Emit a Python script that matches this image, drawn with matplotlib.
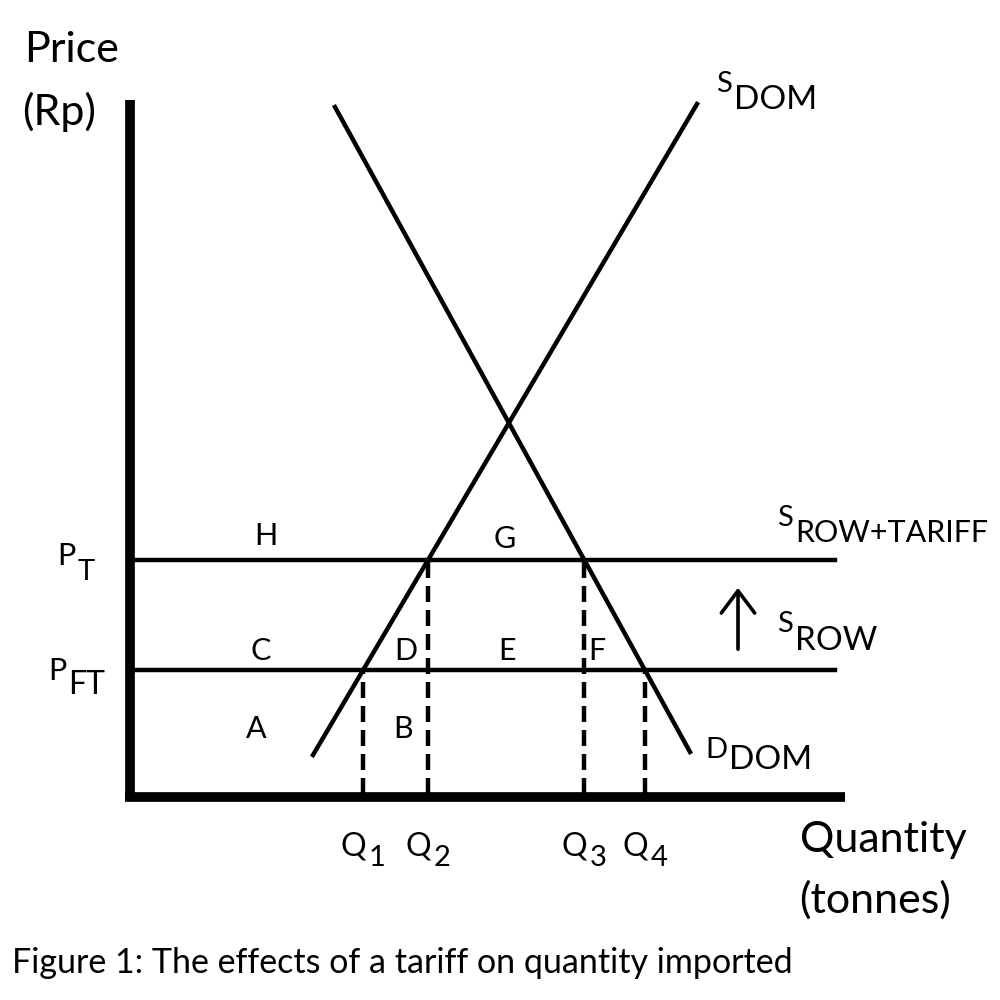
import numpy as np
import matplotlib
matplotlib.use("Agg")
import matplotlib.pyplot as plt
from matplotlib.transforms import offset_copy

plt.rcParams['font.family'] = ['Lato', 'DejaVu Sans']

# curves (quantity, price) end points
s_dom_q = [183, 567]
s_dom_p = [42, 693]
d_dom_q = [205, 560]
d_dom_p = [690, 45]
p_t = 237      # price with tariff
p_ft = 127     # free trade price
q_max = 705

area_labels = ['H', 'G', 'C', 'D', 'E', 'F', 'A', 'B']
area_q = [136, 375, 131, 276, 377, 467, 126, 273]
area_p = [261, 258, 146, 146, 146, 146, 68, 68]


def q_at(qs, ps, p):
    # quantity on a straight line at given price
    return qs[0] + (p - ps[0]) * (qs[1] - qs[0]) / (ps[1] - ps[0])


q1 = q_at(s_dom_q, s_dom_p, p_ft)
q2 = q_at(s_dom_q, s_dom_p, p_t)
q3 = q_at(d_dom_q, d_dom_p, p_t)
q4 = q_at(d_dom_q, d_dom_p, p_ft)
q_vals = [q1, q2, q3, q4]
q_prices = [p_ft, p_t, p_t, p_ft]

fig = plt.figure(figsize=(10, 10), dpi=100)
ax = fig.add_axes([0, 0, 1, 1])
ax.set_xlim(-130, 870)
ax.set_ylim(-203, 797)
ax.axis('off')
rend = fig.canvas.get_renderer()


def sub_label(x, y, main, sub, dy, fs_main=22, fs_sub=22, gap=2, center=False):
    # main letter with a subscript placed to its right, dy in pixels (down)
    t = ax.text(x, y, main, fontsize=fs_main, ha='left', va='center')
    w1 = t.get_window_extent(rend).width
    tr = offset_copy(ax.transData, fig=fig, x=(w1 + gap) * 72 / 100.0,
                     y=-dy * 72 / 100.0, units='points')
    s = ax.text(x, y, sub, fontsize=fs_sub, ha='left', va='center', transform=tr)
    if center:
        w2 = s.get_window_extent(rend).width
        shift = -(w1 + gap + w2) / 2.0 * 72 / 100.0
        t.set_transform(offset_copy(ax.transData, fig=fig, x=shift, y=0, units='points'))
        s.set_transform(offset_copy(ax.transData, fig=fig, x=(w1 + gap) * 72 / 100.0 + shift,
                                    y=-dy * 72 / 100.0, units='points'))


# axes
ax.plot([0, 0], [-3, 697], color='black', lw=7, solid_capstyle='butt')
ax.plot([-5, 715], [0, 0], color='black', lw=7, solid_capstyle='butt')

# curves
ax.plot(s_dom_q, s_dom_p, color='black', lw=3.2)
ax.plot(d_dom_q, d_dom_p, color='black', lw=3.2)
ax.plot([0, q_max], [p_t, p_t], color='black', lw=3.2)
ax.plot([0, q_max], [p_ft, p_ft], color='black', lw=3.2)

for q, p in zip(q_vals, q_prices):
    ax.plot([q, q], [3, p], color='black', lw=3.2, ls=(0, (3.6, 1.8)))

# arrow
ax.annotate('', xy=(608, 212), xytext=(608, 145),
            arrowprops=dict(arrowstyle='->,head_width=1.2,head_length=1.6',
                            color='black', lw=2.6))

for lab, q, p in zip(area_labels, area_q, area_p):
    ax.text(q, p, lab, fontsize=22, ha='center', va='center')

ax.text(-106, 747, 'Price', fontsize=31, ha='left', va='center')
ax.text(-108, 685, '(Rp)', fontsize=31, ha='left', va='center')

sub_label(-73, 241, 'P', 'T', 16, fs_sub=21)
sub_label(-82, 126, 'P', 'FT', 14, fs_sub=23)
sub_label(586, 713, 'S', 'DOM', 16, fs_main=21, fs_sub=24)
sub_label(647, 279, 'S', 'ROW+TARIFF', 15, fs_main=21, fs_sub=22)
sub_label(647, 173, 'S', 'ROW', 17, fs_main=21, fs_sub=24)
sub_label(575, 47, 'D', 'DOM', 10, fs_main=21, fs_sub=24)

for i, q in enumerate(q_vals):
    sub_label(q, -50, 'Q', str(i + 1), 11, fs_main=23, fs_sub=21, gap=3, center=True)

ax.text(670, -43, 'Quantity', fontsize=31, ha='left', va='center')
ax.text(669, -103, '(tonnes)', fontsize=31, ha='left', va='center')

fig.text(0.012, 0.037, 'Figure 1: The effects of a tariff on quantity imported',
         fontsize=24.5, ha='left', va='center')

fig.savefig('out.png', dpi=100, facecolor='white')
